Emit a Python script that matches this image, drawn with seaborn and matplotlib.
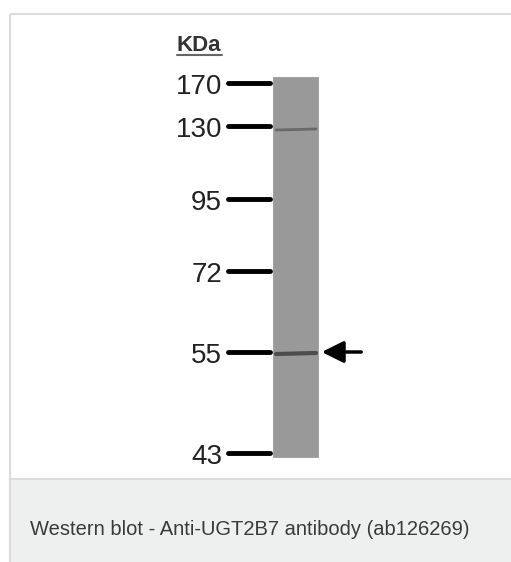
import matplotlib.pyplot as plt
import matplotlib.patches as mpatches
import seaborn as sns
import numpy as np
import pandas as pd

# ladder (kDa) and where each marker ran to (px from top of the picture)
marker_kda = [170, 130, 95, 72, 55, 43]
marker_pos = [83, 126, 199, 271, 352, 453]

# bands seen in the single lane
band_kda = [130, 55]
band_pos = [130, 354]
band_alpha = [0.5, 0.8]
band_width = [2.0, 3.0]

caption = "Western blot - Anti-UGT2B7 antibody (ab126269)"

sns.set_theme(style="white")
plt.rcParams['font.family'] = ['Liberation Sans', 'DejaVu Sans']

fig = plt.figure(figsize=(5.11, 5.62), dpi=100)
ax = fig.add_axes([0, 0, 1, 1])
ax.set_xlim(0, 511)
ax.set_ylim(562, 0)
ax.axis('off')

# frame + caption box
ax.add_patch(mpatches.Rectangle((9.5, 13.5), 510, 466, fill=False, ec='#dcdcdc', lw=1.5))
ax.add_patch(mpatches.Rectangle((9.5, 479), 510, 90, fc='#eeefef', ec='#dcdcdc', lw=1.5))

# lane
lane_x0, lane_x1 = 273, 318
lane_top, lane_bot = 77, 457
ax.add_patch(mpatches.Rectangle((lane_x0, lane_top), lane_x1 - lane_x0, lane_bot - lane_top,
                                fc='#999999', ec='#a4a4a4', lw=0.8))

# marker ticks
ticks = pd.DataFrame({
    'x': [228, 270] * len(marker_kda),
    'y': np.repeat(marker_pos, 2),
    'kda': np.repeat(marker_kda, 2),
})
sns.lineplot(data=ticks, x='x', y='y', units='kda', estimator=None, color='black',
             lw=3.5, ax=ax, legend=False, sort=False)

for kda, pos in zip(marker_kda, marker_pos):
    ax.text(222, pos + 11, str(kda), ha='right', va='baseline', fontsize=20, color='#222222')

# bands
for pos, a, w in zip(band_pos, band_alpha, band_width):
    ax.plot([lane_x0 + 3, lane_x1 - 2], [pos, pos - 1], color='#3a3a3a', alpha=a, lw=w,
            solid_capstyle='round')

# arrow at the 55 kDa band
ax.annotate('', xy=(319, band_pos[1] - 2), xytext=(364, band_pos[1] - 2),
            arrowprops=dict(arrowstyle='-|>,head_length=1.1,head_width=0.55', color='black', lw=2.5))

# KDa header
ax.text(177, 51, 'KDa', ha='left', va='baseline', fontsize=16, fontweight='bold', color='#333333')
ax.plot([177, 222], [54.5, 54.5], color='#666666', lw=1.5)

ax.text(30, 535, caption, ha='left', va='baseline', fontsize=14.5, color='#3a3a3a')

fig.savefig('out.png', dpi=100)
